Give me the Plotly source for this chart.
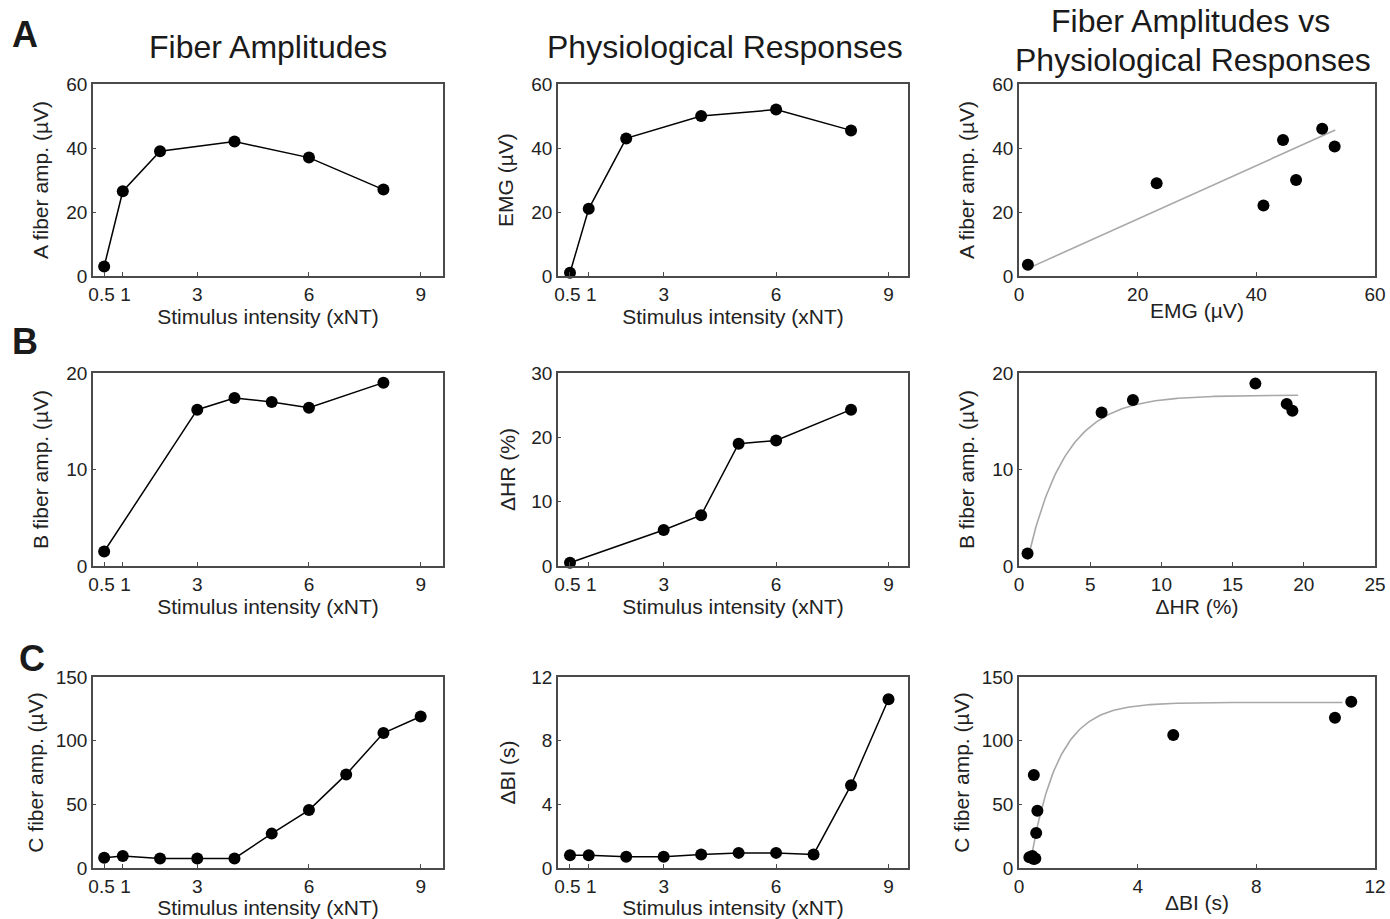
import numpy as np
import plotly.graph_objects as go

# ---------------- data ----------------
stim_ab = [0.5, 1, 2, 4, 6, 8]
a_fiber = [3.0, 26.5, 39.0, 42.0, 37.0, 27.0]
emg = [1.0, 21.0, 43.0, 50.0, 52.0, 45.5]

emg_sc = [1.5, 23.2, 41.2, 44.5, 46.7, 51.1, 53.2]
a_fiber_sc = [3.5, 29.0, 22.0, 42.5, 30.0, 46.0, 40.5]
a_fit_slope = 0.835
a_fit_intercept = 1.1
a_fit_range = [2.1, 53.3]

stim_b = [0.5, 3, 4, 5, 6, 8]
b_fiber = [1.5, 16.2, 17.4, 17.0, 16.4, 19.0]
d_hr = [0.5, 5.6, 7.9, 19.0, 19.5, 24.3]

hr_sc = [0.6, 5.8, 8.0, 16.6, 18.8, 19.2]
b_fiber_sc = [1.3, 15.9, 17.2, 18.9, 16.8, 16.1]
b_fit_amp, b_fit_rate, b_fit_x0 = 17.7, 0.376, 0.5
b_fit_range = [0.6, 19.6]

stim_c = [0.5, 1, 2, 3, 4, 5, 6, 7, 8, 9]
c_fiber = [8.0, 9.5, 7.5, 7.5, 7.5, 27.0, 45.5, 73.5, 106.0, 119.0]
d_bi = [0.8, 0.8, 0.7, 0.7, 0.85, 0.95, 0.95, 0.85, 5.2, 10.6]

bi_sc = [0.35, 0.45, 0.5, 0.55, 0.58, 0.62, 0.5, 5.2, 10.65, 11.2]
c_fiber_sc = [8.5, 9.5, 7.0, 7.5, 27.5, 45.0, 73.0, 104.5, 118.0, 130.5]
c_fit_amp, c_fit_rate, c_fit_x0 = 130.0, 1.07, 0.35
c_fit_range = [0.4, 10.9]

stim_ticks = [0.5, 1, 3, 6, 9]
stim_ticktext = ["0.5\u00a0", "\u00a01", "3", "6", "9"]

# ---------------- layout helpers ----------------
W, H = 1390, 919
FONT = "Liberation Sans, Arial, sans-serif"
AXCOL = "#4a4a4a"
TXT = "#222222"

cols = [(93, 443), (558, 908), (1019, 1375)]
rows = [(84, 276), (373, 566), (677, 868)]


def xdom(c):
    return [cols[c][0] / W, cols[c][1] / W]


def ydom(r):
    return [1 - rows[r][1] / H, 1 - rows[r][0] / H]


fig = go.Figure()

line_style = dict(color="black", width=1.5)
marker_style = dict(color="black", size=12, symbol="circle")
fit_style = dict(color="#a8a8a8", width=1.6)


def add_axes(idx, r, c, xrange, yrange, xtickvals, xticktext, ytickvals,
             xtitle, ytitle, ystandoff):
    xa = "xaxis" if idx == 1 else f"xaxis{idx}"
    ya = "yaxis" if idx == 1 else f"yaxis{idx}"
    anchor_x = "x" if idx == 1 else f"x{idx}"
    anchor_y = "y" if idx == 1 else f"y{idx}"
    common = dict(showline=True, linecolor=AXCOL, linewidth=1.5, mirror=True,
                  showgrid=False, zeroline=False, ticks="inside",
                  tickcolor=AXCOL, tickwidth=1.2, tickangle=0,
                  automargin=False, fixedrange=True,
                  tickfont=dict(family=FONT, size=19, color=TXT))
    fig.update_layout(**{
        xa: dict(domain=xdom(c), anchor=anchor_y, range=xrange,
                 tickmode="array", tickvals=xtickvals, ticktext=xticktext,
                 ticklen=4,
                 title=dict(text=xtitle, font=dict(family=FONT, size=21, color=TXT),
                            standoff=0),
                 **common),
        ya: dict(domain=ydom(r), anchor=anchor_x, range=yrange,
                 tickmode="array", tickvals=ytickvals, ticklen=3,
                 title=dict(text=ytitle, font=dict(family=FONT, size=21, color=TXT),
                            standoff=ystandoff),
                 **common),
    })
    return anchor_x, anchor_y


def add_line(ax, ay, x, y):
    fig.add_trace(go.Scatter(x=x, y=y, mode="lines+markers", line=line_style,
                             marker=marker_style, xaxis=ax, yaxis=ay,
                             cliponaxis=False, showlegend=False))


def add_points(ax, ay, x, y):
    fig.add_trace(go.Scatter(x=x, y=y, mode="markers", marker=marker_style,
                             xaxis=ax, yaxis=ay, cliponaxis=False,
                             showlegend=False))


def add_fit(ax, ay, x, y):
    fig.add_trace(go.Scatter(x=x, y=y, mode="lines", line=fit_style,
                             xaxis=ax, yaxis=ay, showlegend=False))


# Row A
ax, ay = add_axes(1, 0, 0, [0.2, 9.6], [0, 60], stim_ticks, stim_ticktext,
                  [0, 20, 40, 60], "Stimulus intensity (xNT)", "A fiber amp. (µV)", 12)
add_line(ax, ay, stim_ab, a_fiber)

ax, ay = add_axes(2, 0, 1, [0.18, 9.52], [0, 60], stim_ticks, stim_ticktext,
                  [0, 20, 40, 60], "Stimulus intensity (xNT)", "EMG (µV)", 12)
add_line(ax, ay, stim_ab, emg)

ax, ay = add_axes(3, 0, 2, [0, 60], [0, 60], [0, 20, 40, 60], ["0", "20", "40", "60"],
                  [0, 20, 40, 60], "EMG (µV)", "A fiber amp. (µV)", 12)
fx = np.linspace(a_fit_range[0], a_fit_range[1], 2)
add_fit(ax, ay, fx, a_fit_slope * fx + a_fit_intercept)
add_points(ax, ay, emg_sc, a_fiber_sc)

# Row B
ax, ay = add_axes(4, 1, 0, [0.2, 9.6], [0, 20], stim_ticks, stim_ticktext,
                  [0, 10, 20], "Stimulus intensity (xNT)", "B fiber amp. (µV)", 12)
add_line(ax, ay, stim_b, b_fiber)

ax, ay = add_axes(5, 1, 1, [0.18, 9.52], [0, 30], stim_ticks, stim_ticktext,
                  [0, 10, 20, 30], "Stimulus intensity (xNT)", "ΔHR (%)", 10)
add_line(ax, ay, stim_b, d_hr)

ax, ay = add_axes(6, 1, 2, [0, 25], [0, 20], [0, 5, 10, 15, 20, 25],
                  ["0", "5", "10", "15", "20", "25"],
                  [0, 10, 20], "ΔHR (%)", "B fiber amp. (µV)", 12)
fx = np.linspace(b_fit_range[0], b_fit_range[1], 200)
add_fit(ax, ay, fx, b_fit_amp * (1 - np.exp(-b_fit_rate * (fx - b_fit_x0))))
add_points(ax, ay, hr_sc, b_fiber_sc)

# Row C
ax, ay = add_axes(7, 2, 0, [0.2, 9.6], [0, 150], stim_ticks, stim_ticktext,
                  [0, 50, 100, 150], "Stimulus intensity (xNT)", "C fiber amp. (µV)", 6)
add_line(ax, ay, stim_c, c_fiber)

ax, ay = add_axes(8, 2, 1, [0.18, 9.52], [0, 12], stim_ticks, stim_ticktext,
                  [0, 4, 8, 12], "Stimulus intensity (xNT)", "ΔBI (s)", 10)
add_line(ax, ay, stim_c, d_bi)

ax, ay = add_axes(9, 2, 2, [0, 12], [0, 150], [0, 4, 8, 12], ["0", "4", "8", "12"],
                  [0, 50, 100, 150], "ΔBI (s)", "C fiber amp. (µV)", 6)
fx = np.linspace(c_fit_range[0], c_fit_range[1], 200)
add_fit(ax, ay, fx, c_fit_amp * (1 - np.exp(-c_fit_rate * (fx - c_fit_x0))))
add_points(ax, ay, bi_sc, c_fiber_sc)

# ---------------- titles & panel letters ----------------
ann = []


def text_at(txt, px, py, size, bold=False):
    ann.append(dict(text=f"<b>{txt}</b>" if bold else txt,
                    x=px / W, y=1 - py / H, xref="paper", yref="paper",
                    xanchor="center", yanchor="middle", showarrow=False,
                    font=dict(family=FONT, size=size, color="#1a1a1a")))


text_at("Fiber Amplitudes", 268, 47, 32)
text_at("Physiological Responses", 725, 47, 32)
text_at("Fiber Amplitudes vs", 1190, 21, 32)
text_at("Physiological Responses", 1193, 60, 32)
text_at("A", 25, 34, 36, bold=True)
text_at("B", 25, 341, 36, bold=True)
text_at("C", 32, 658, 36, bold=True)

fig.update_layout(annotations=ann, width=W, height=H,
                  margin=dict(l=0, r=0, t=0, b=0, autoexpand=False),
                  paper_bgcolor="white", plot_bgcolor="white",
                  showlegend=False)

fig.write_html("out.html", config={"displayModeBar": False},
               post_script="document.body.style.margin='0';"
                           "document.body.style.padding='0';"
                           "document.body.style.overflow='hidden';")
